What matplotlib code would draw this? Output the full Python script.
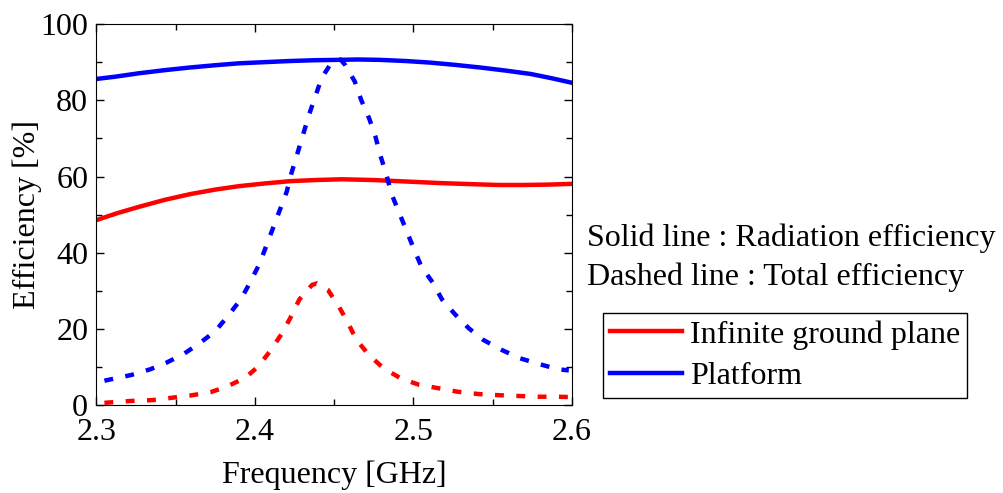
import numpy as np
import matplotlib
matplotlib.use('Agg')
import matplotlib.pyplot as plt
from matplotlib.ticker import MultipleLocator

plt.rcParams['font.family'] = ['Liberation Serif', 'DejaVu Serif']
plt.rcParams['font.size'] = 23

# Platform, radiation efficiency (solid blue)
f_plat_rad = [2.30, 2.312, 2.327, 2.343, 2.359, 2.375, 2.39, 2.406, 2.422, 2.437,
              2.452, 2.465, 2.479, 2.495, 2.51, 2.526, 2.542, 2.558, 2.574, 2.587, 2.60]
e_plat_rad = [85.6, 86.2, 87.1, 87.9, 88.6, 89.2, 89.7, 90.0, 90.3, 90.5,
              90.6, 90.7, 90.6, 90.3, 89.9, 89.3, 88.6, 87.8, 86.9, 85.8, 84.6]

# Infinite ground plane, radiation efficiency (solid red)
f_inf_rad = [2.30, 2.313, 2.327, 2.343, 2.359, 2.375, 2.39, 2.406, 2.422, 2.438,
             2.455, 2.475, 2.496, 2.517, 2.538, 2.554, 2.569, 2.585, 2.60]
e_inf_rad = [48.6, 50.4, 52.1, 53.9, 55.4, 56.6, 57.5, 58.2, 58.8, 59.1,
             59.3, 59.1, 58.7, 58.3, 58.0, 57.8, 57.8, 57.9, 58.1]

# Platform, total efficiency (dashed blue)
f_plat_tot = [2.305, 2.322, 2.334, 2.344, 2.355, 2.365, 2.375, 2.383, 2.391, 2.397,
              2.403, 2.42, 2.423, 2.43, 2.434, 2.438, 2.442, 2.448, 2.454, 2.457,
              2.463, 2.467, 2.472, 2.476, 2.479, 2.483, 2.486, 2.501, 2.505, 2.512,
              2.518, 2.526, 2.535, 2.544, 2.556, 2.567, 2.579, 2.591, 2.598]
e_plat_tot = [6.5, 8.0, 9.5, 11.2, 13.5, 16.3, 19.5, 23.5, 27.8, 32.3,
              37.3, 56.0, 60.9, 70.5, 76.1, 80.9, 85.8, 89.7, 90.7, 89.2,
              84.9, 80.1, 75.3, 70.5, 65.7, 60.4, 55.6, 40.3, 36.4, 32.3,
              27.8, 24.0, 20.2, 17.2, 14.5, 12.4, 10.9, 9.5, 9.2]

# Infinite ground plane, total efficiency (dashed red)
f_inf_tot = [2.305, 2.322, 2.335, 2.347, 2.359, 2.372, 2.382, 2.394, 2.402, 2.41,
             2.417, 2.423, 2.428, 2.436, 2.439, 2.446, 2.453, 2.459, 2.464, 2.472,
             2.481, 2.492, 2.503, 2.516, 2.528, 2.541, 2.554, 2.566, 2.579, 2.59, 2.6]
e_inf_tot = [0.7, 1.2, 1.4, 2.0, 2.6, 3.5, 4.9, 7.3, 10.2, 14.5,
             18.9, 23.5, 27.8, 31.6, 32.0, 30.3, 25.9, 21.4, 17.2, 13.2,
             9.8, 7.1, 5.5, 4.5, 3.6, 3.0, 2.7, 2.5, 2.3, 2.3, 2.2]

fig = plt.figure(figsize=(10.04, 4.93), dpi=100)
ax = fig.add_axes([0.0961, 0.1775, 0.4736, 0.7738])

lw = 3.2
dash = (2.0, 2.8)
ax.plot(f_inf_rad, e_inf_rad, color='#ff0000', lw=lw, label='Infinite ground plane')
ax.plot(f_plat_rad, e_plat_rad, color='#0000ff', lw=lw, label='Platform')
ax.plot(f_inf_tot, e_inf_tot, color='#ff0000', lw=lw, linestyle=(0, dash),
        dash_capstyle='butt')
ax.plot(f_plat_tot, e_plat_tot, color='#0000ff', lw=lw, linestyle=(0, dash),
        dash_capstyle='butt')

ax.set_xlim(2.3, 2.6)
ax.set_ylim(0, 100)
ax.xaxis.set_major_locator(MultipleLocator(0.1))
ax.xaxis.set_minor_locator(MultipleLocator(0.05))
ax.yaxis.set_major_locator(MultipleLocator(20))
ax.yaxis.set_minor_locator(MultipleLocator(10))
ax.xaxis.set_major_formatter(plt.FuncFormatter(lambda v, p: f'{v:.1f}'))
ax.tick_params(which='both', direction='in', top=True, right=True, width=1)
ax.tick_params(which='major', length=6)
ax.tick_params(which='minor', length=4)
ax.tick_params(axis='x', which='major', pad=9)
ax.tick_params(axis='y', which='major', pad=6)
ax.set_xlabel('Frequency [GHz]', labelpad=10)
ax.set_ylabel('Efficiency [%]', labelpad=-1)

fig.text(587 / 1004, 1 - 246 / 493, 'Solid line : Radiation efficiency', va='baseline')
fig.text(587 / 1004, 1 - 285 / 493, 'Dashed line : Total efficiency', va='baseline')

leg = ax.legend(loc='upper left', bbox_to_anchor=(603 / 1004, 1 - 313 / 493),
                bbox_transform=fig.transFigure, borderaxespad=0, fancybox=False,
                edgecolor='black', framealpha=1, handlelength=2.25, handletextpad=0.25,
                borderpad=0.22, labelspacing=0.38)
leg.get_frame().set_linewidth(1)

fig.savefig('out.png', dpi=100)
